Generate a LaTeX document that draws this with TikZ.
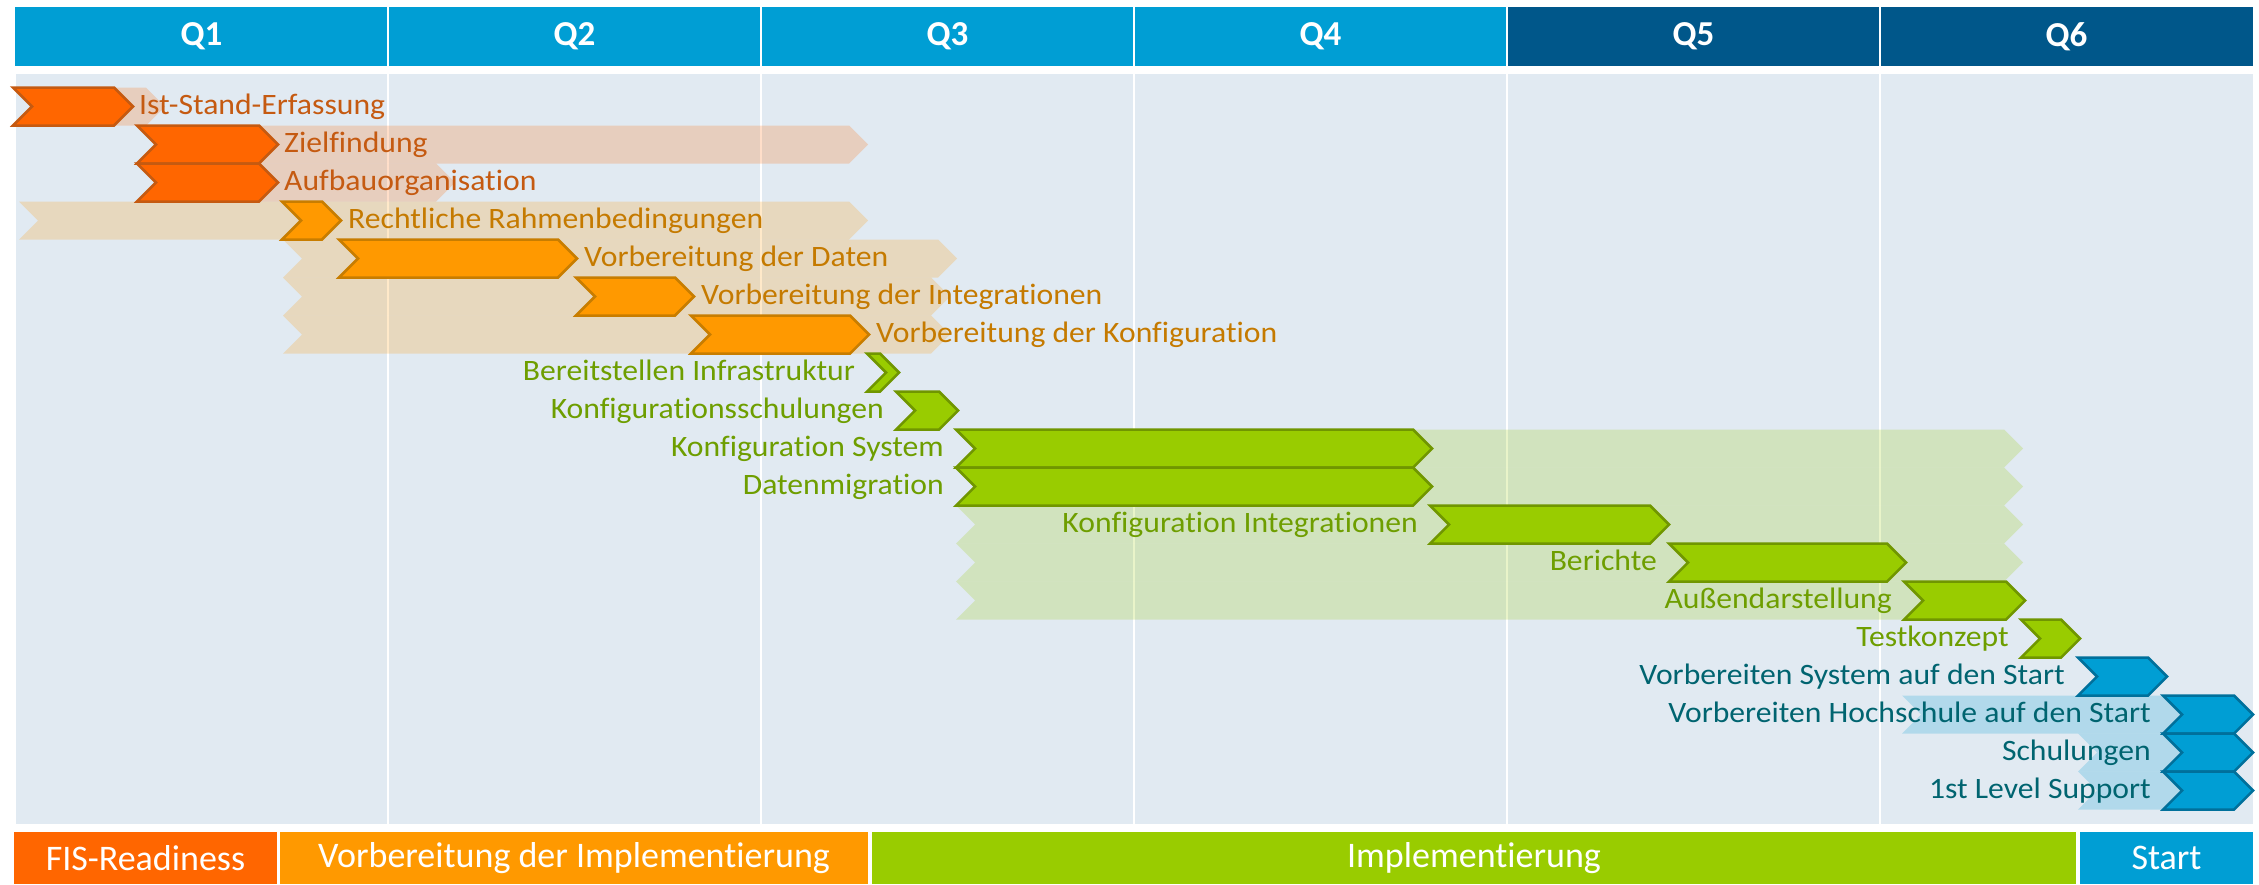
\documentclass[tikz,border=0pt]{standalone}
\usepackage{fontspec}
\setmainfont{Carlito}[Ligatures=NoCommon]
\newfontfamily\lblfont{Carlito}[FakeStretch=1.07,Ligatures=NoCommon]
\definecolor{hdrA}{RGB}{0,158,212}
\definecolor{hdrB}{RGB}{0,87,138}
\definecolor{chartbg}{RGB}{225,234,242}
\definecolor{cRed}{RGB}{255,102,0}
\definecolor{cRedD}{RGB}{197,90,17}
\definecolor{cOr}{RGB}{255,153,0}
\definecolor{cOrD}{RGB}{200,125,0}
\definecolor{cOrT}{RGB}{197,122,0}
\definecolor{cGr}{RGB}{153,204,0}
\definecolor{cGrD}{RGB}{112,150,0}
\definecolor{cGrT}{RGB}{110,158,0}
\definecolor{cBl}{RGB}{0,158,212}
\definecolor{cBlD}{RGB}{0,112,155}
\definecolor{cBlT}{RGB}{0,100,112}
\newcommand{\faintchev}[4]{%
  \pgfmathsetmacro\chT{87.5+38*#3}\pgfmathsetmacro\chB{\chT+38}\pgfmathsetmacro\chM{\chT+19}%
  \fill[#4, fill opacity=0.21] (#1,\chT) -- ({#2-19},\chT) -- (#2,\chM) -- ({#2-19},\chB) -- (#1,\chB) -- ({#1+19},\chM) -- cycle;}
\newcommand{\darkchev}[5]{%
  \pgfmathsetmacro\chT{87.5+38*#3}\pgfmathsetmacro\chB{\chT+38}\pgfmathsetmacro\chM{\chT+19}%
  \filldraw[chevline, fill=#4, draw=#5] (#1,\chT) -- ({#2-19},\chT) -- (#2,\chM) -- ({#2-19},\chB) -- (#1,\chB) -- ({#1+19},\chM) -- cycle;}
\begin{document}
\begin{tikzpicture}[x=1pt,y=-1pt,
  lbl/.style={font=\lblfont\fontsize{29.6}{30}\selectfont, inner sep=0pt},
  hdr/.style={font=\bfseries\fontsize{35}{36}\selectfont, text=white, inner sep=0pt},
  foot/.style={font=\fontsize{36}{37}\selectfont, text=white, inner sep=0pt, minimum height=52pt},
  chevline/.style={line width=2.5pt, line join=miter},
  divline/.style={white, line width=2pt}]
\useasboundingbox (0,0) rectangle (2259,884);
\fill[white] (0,0) rectangle (2259,884);
% header
\fill[hdrA] (15,7) rectangle (1507,66);
\fill[hdrB] (1507,7) rectangle (2253,66);
\foreach \xx in {388,761,1134,1507,1880} \draw[divline] (\xx,7) -- (\xx,66);
\foreach \q [count=\i from 0] in {Q1,Q2,Q3,Q4,Q5,Q6}
  \node[hdr] (h\i) at ({15+373*(\i+0.5)},36.5) {\q};
% chart background
\fill[chartbg] (16,74) rectangle (2253,824);
\foreach \xx in {388,761,1134,1507,1880} \draw[divline] (\xx,74) -- (\xx,824);
% faint bars
\faintchev{13}{165}{0}{cRed}
\faintchev{137}{868}{1}{cRed}
\faintchev{137}{455}{2}{cRed}
\faintchev{19}{868}{3}{cOr}
\faintchev{283}{957}{4}{cOr}
\faintchev{283}{950}{5}{cOr}
\faintchev{283}{950}{6}{cOr}
\foreach \r in {9,...,13} {\faintchev{956}{2023}{\r}{cGr}}
\faintchev{1902}{2180}{16}{cBl}
\faintchev{2078}{2180}{17}{cBl}
\faintchev{2078}{2180}{18}{cBl}
% dark chevrons
\darkchev{13}{133}{0}{cRed}{cRedD}
\darkchev{137}{278}{1}{cRed}{cRedD}
\darkchev{137}{278}{2}{cRed}{cRedD}
\darkchev{282}{341}{3}{cOr}{cOrD}
\darkchev{339}{577}{4}{cOr}{cOrD}
\darkchev{576}{694}{5}{cOr}{cOrD}
\darkchev{691}{869}{6}{cOr}{cOrD}
\darkchev{867}{899}{7}{cGr}{cGrD}
\darkchev{896}{958}{8}{cGr}{cGrD}
\darkchev{956}{1432}{9}{cGr}{cGrD}
\darkchev{956}{1432}{10}{cGr}{cGrD}
\darkchev{1430}{1669}{11}{cGr}{cGrD}
\darkchev{1669}{1906}{12}{cGr}{cGrD}
\darkchev{1904}{2025}{13}{cGr}{cGrD}
\darkchev{2021}{2080}{14}{cGr}{cGrD}
\darkchev{2078}{2167}{15}{cBl}{cBlD}
\darkchev{2163}{2253}{16}{cBl}{cBlD}
\darkchev{2163}{2253}{17}{cBl}{cBlD}
\darkchev{2163}{2253}{18}{cBl}{cBlD}
% labels
\node[lbl, text=cRedD, anchor=base west] (t0) at (139,114.5) {Ist-Stand-Erfassung};
\node[lbl, text=cRedD, anchor=base west] (t1) at (284,152.5) {Zielfindung};
\node[lbl, text=cRedD, anchor=base west] (t2) at (284,190.5) {Aufbauorganisation};
\node[lbl, text=cOrT, anchor=base west] (t3) at (348,228.5) {Rechtliche Rahmenbedingungen};
\node[lbl, text=cOrT, anchor=base west] (t4) at (584,266.5) {Vorbereitung der Daten};
\node[lbl, text=cOrT, anchor=base west] (t5) at (701,304.5) {Vorbereitung der Integrationen};
\node[lbl, text=cOrT, anchor=base west] (t6) at (876,342.5) {Vorbereitung der Konfiguration};
\node[lbl, text=cGrT, anchor=base east] (t7) at (855,380.5) {Bereitstellen Infrastruktur};
\node[lbl, text=cGrT, anchor=base east] (t8) at (884,418.5) {Konfigurationsschulungen};
\node[lbl, text=cGrT, anchor=base east] (t9) at (944,456.5) {Konfiguration System};
\node[lbl, text=cGrT, anchor=base east] (t10) at (944,494.5) {Datenmigration};
\node[lbl, text=cGrT, anchor=base east] (t11) at (1418,532.5) {Konfiguration Integrationen};
\node[lbl, text=cGrT, anchor=base east] (t12) at (1657,570.5) {Berichte};
\node[lbl, text=cGrT, anchor=base east] (t13) at (1892,608.5) {Außendarstellung};
\node[lbl, text=cGrT, anchor=base east] (t14) at (2009,646.5) {Testkonzept};
\node[lbl, text=cBlT, anchor=base east] (t15) at (2065,684.5) {Vorbereiten System auf den Start};
\node[lbl, text=cBlT, anchor=base east] (t16) at (2151,722.5) {Vorbereiten Hochschule auf den Start};
\node[lbl, text=cBlT, anchor=base east] (t17) at (2151,760.5) {Schulungen};
\node[lbl, text=cBlT, anchor=base east] (t18) at (2151,798.5) {1st Level Support};
% footer
\node[foot, fill=cRed, minimum width=263pt] (f1) at (145.5,858) {FIS-Readiness};
\node[foot, fill=cOr, minimum width=588pt] (f2) at (574,858) {Vorbereitung der Implementierung};
\node[foot, fill=cGr, minimum width=1204pt] (f3) at (1474,858) {Implementierung};
\node[foot, fill=cBl, minimum width=173pt] (f4) at (2166.5,858) {Start};
\end{tikzpicture}
\end{document}
